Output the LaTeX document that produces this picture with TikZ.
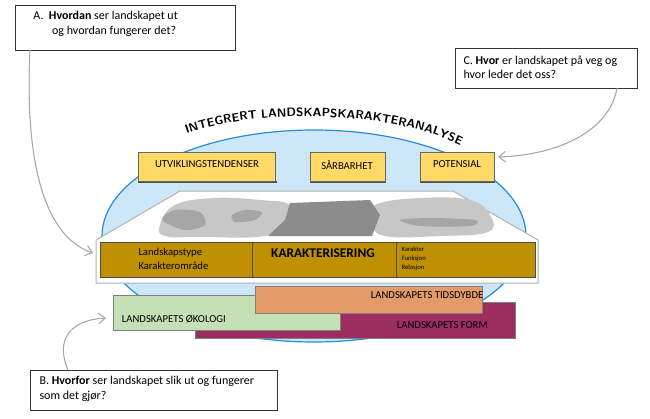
\documentclass[tikz,border=0pt]{standalone}
\usepackage{fontspec}
\setmainfont{Carlito}
\usetikzlibrary{decorations.text,arrows.meta}
\definecolor{boxyellow}{RGB}{255,217,102}
\definecolor{bandbrown}{RGB}{191,144,0}
\definecolor{skyblue}{RGB}{204,232,248}
\definecolor{rimblue}{RGB}{40,140,210}
\definecolor{ecogreen}{RGB}{197,224,180}
\definecolor{timeorange}{RGB}{228,155,106}
\definecolor{formpurple}{RGB}{155,45,95}
\tikzset{
  every picture/.style={line width=0.75pt},
  qbox/.style={draw=black!80,fill=white,line width=0.6pt},
  theme/.style={draw=black!60,fill=boxyellow,line width=0.6pt},
  layer/.style={draw=black!50,line width=0.6pt},
  guide/.style={draw=black!35,line width=0.8pt,-{Straight Barb[length=5pt,width=8pt]}}
}
\begin{document}
\begin{tikzpicture}[x=0.75pt,y=0.75pt,yscale=-1,xscale=1]
\useasboundingbox (0,0) rectangle (650,418);

%Question boxes
\draw [qbox] (15,5) rectangle (235,50);
\node (qa) [anchor=north west,align=left,inner sep=0.75pt,font=\small] at (32,10)
  {A.\ \ \textbf{Hvordan} ser landskapet ut\\\hspace{14pt}og hvordan fungerer det?};
\coordinate (qafoot) at (30,50);
\draw [qbox] (455,48) rectangle (637,88);
\node (qc) [anchor=north west,align=left,inner sep=0.75pt,font=\small] at (462,54)
  {C. \textbf{Hvor} er landskapet på veg og\\hvor leder det oss?};
\coordinate (qcfoot) at (617,88);
\draw [qbox] (30,370) rectangle (277,410);
\node (qb) [anchor=north west,align=left,inner sep=0.75pt,font=\small] at (38,375)
  {B. \textbf{Hvorfor} ser landskapet slik ut og fungerer\\som det gjør?};
\coordinate (qbhead) at (68,370);

%Ellipse
\draw [rimblue,fill=skyblue,line width=0.9pt] (314,236) ellipse (212 and 106);

%Arched title
\path [decorate,decoration={text along path,text align=center,
  text={|\sffamily\bfseries\small|INTEGRERT LANDSKAPSKARAKTERANALYSE}}]
  (185,134) .. controls (255,108) and (390,110) .. (462,146);

%Yellow themes
\draw [black!70,line width=1.5pt] (139,153) -- (139,182) -- (277,182);
\node (utv) [theme,minimum width=137pt*0.75,minimum height=29*0.75pt,anchor=north west,
  inner sep=0pt] at (138,152) {};
\node [anchor=north,font=\footnotesize] at (207,156) {UTVIKLINGSTENDENSER};
\draw [black!70,line width=1.5pt] (311,153) -- (311,182) -- (386,182);
\node (sar) [theme,minimum width=75*0.75pt,minimum height=29*0.75pt,anchor=north west,
  inner sep=0pt] at (310,152) {};
\node [anchor=north,font=\footnotesize] at (347,156) {SÅRBARHET};
\draw [black!70,line width=1.5pt] (421,153) -- (421,182) -- (495,182);
\node (pot) [theme,minimum width=74*0.75pt,minimum height=29*0.75pt,anchor=north west,
  inner sep=0pt] at (420,152) {};
\node [anchor=north,font=\footnotesize] at (457,156) {POTENSIAL};

%Landscape slab
\draw [fill=white,draw=black!30] (180,191) -- (453,191) -- (538,240) -- (538,283)
  -- (96,283) -- (96,240) -- cycle;
\fill [black!22] plot [smooth cycle,tension=0.7] coordinates {(160,225) (175,205) (215,198)
  (260,200) (290,205) (285,222) (265,236) (200,237) (165,236)};
\fill [black!22] plot [smooth cycle,tension=0.7] coordinates {(375,205) (420,198) (470,200)
  (490,215) (488,232) (440,236) (385,236) (372,222)};
\fill [black!45] (290,203) -- (370,200) -- (380,215) -- (372,236) -- (268,236) -- (285,220) -- cycle;
\fill [black!35] plot [smooth cycle] coordinates {(162,220) (175,210) (200,212) (205,225) (185,230)};
\fill [black!35] plot [smooth cycle] coordinates {(232,215) (245,210) (262,212) (255,220) (235,222)};
\fill [black!35] plot [smooth cycle] coordinates {(400,220) (430,218) (475,220) (470,226) (420,226)};

%Brown band
\node (band) [draw=black!70,fill=bandbrown,minimum width=435*0.75pt,minimum height=35*0.75pt,
  anchor=north west,inner sep=0pt] at (100,242) {};
\draw [black!70] (252,242) -- (252,277);
\draw [black!70] (396,242) -- (396,277);
\node [anchor=north west,align=left,font=\footnotesize,inner sep=0pt] at (138,248)
  {Landskapstype\\[1pt]Karakterområde};
\node [font=\normalsize\bfseries] at (323,253) {KARAKTERISERING};
\node [anchor=north west,align=left,font=\tiny,inner sep=0pt] at (401,246)
  {Karakter\\[1pt]Funksjon\\[1pt]Relasjon};

%Layers
\node (form) [layer,fill=formpurple,minimum width=320*0.75pt,minimum height=36*0.75pt,
  anchor=north west,inner sep=0pt] at (195,302) {};
\node [anchor=west,font=\footnotesize] at (392,325) {LANDSKAPETS FORM};
\node (eco) [layer,fill=ecogreen,minimum width=227*0.75pt,minimum height=35*0.75pt,
  anchor=north west,inner sep=0pt] at (113,295) {};
\node [anchor=west,font=\footnotesize] at (117,319) {LANDSKAPETS ØKOLOGI};
\node (tid) [layer,fill=timeorange,minimum width=227*0.75pt,minimum height=27*0.75pt,
  anchor=north west,inner sep=0pt] at (255,286) {};
\node [anchor=west,font=\footnotesize] at (366,295) {LANDSKAPETS TIDSDYBDE};

%Guide arrows
\draw [guide] (qafoot) .. controls (25,150) and (40,235) .. (93,253);
\draw [guide] (qcfoot) .. controls (610,130) and (560,155) .. (498,157);
\draw [guide] (qbhead) .. controls (55,340) and (70,320) .. (106,318);
\end{tikzpicture}
\end{document}
